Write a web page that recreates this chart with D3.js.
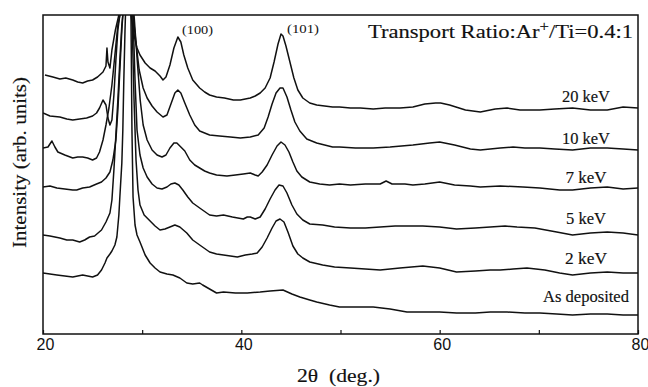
<!DOCTYPE html>
<html>
<head>
<meta charset="utf-8">
<script src="https://cdn.jsdelivr.net/npm/d3@7"></script>
<style>
  html, body { margin: 0; padding: 0; background: #fff; }
  svg { display: block; }
  text { fill: #111; }
  .serif { stroke: #111; stroke-width: 0.15px; }
</style>
</head>
<body>
<svg id="chart" width="648" height="387"></svg>
<script>
// ---- Data (2θ in degrees, intensity in arbitrary units, offset per trace) ----
const seriesNames = ["20 keV", "10 keV", "7 keV", "5 keV", "2 keV", "As deposited"];

const kev20 = [[20.2,259],[21.0,257],[21.7,255],[22.3,256],[23.0,254],[23.5,252],[24.0,251],[24.5,253],[25.0,254],[25.5,257],[26.05,262],[26.35,268],[26.45,286],[26.55,272],[26.75,266],[26.95,284],[27.3,304],[27.65,319],[28.27,394],[28.87,319],[29.18,299],[29.48,286],[29.78,279],[30.3,271],[30.8,266],[31.3,263],[31.8,258],[32.1,254],[32.4,257],[32.8,269],[33.2,286],[33.6,297],[33.9,292],[34.2,279],[34.6,266],[35.1,254],[35.8,246],[36.3,242],[36.8,239],[37.5,237],[38.3,236],[39.2,234],[39.9,234],[40.4,235],[40.9,236],[41.4,238],[41.9,241],[42.4,246],[42.9,256],[43.3,272],[43.7,290],[44.0,300],[44.2,298],[44.5,288],[44.9,272],[45.3,256],[45.7,244],[46.2,236],[46.9,231],[47.6,229],[48.4,228],[49.2,227],[49.9,227],[51.0,226],[52.0,226],[53.3,225],[54.5,226],[56.0,226],[57.3,227],[58.5,230],[59.6,231],[60.1,231],[61.0,229],[62.6,224],[64.1,222],[65.6,225],[66.8,226],[68.1,224],[70.1,224],[71.6,225],[73.4,226],[75.2,224],[76.9,224],[78.5,227],[80.0,226]];

const kev10 = [[20.0,221],[20.7,218],[21.7,217],[22.4,215],[23.0,214],[23.7,215],[24.4,216],[25.0,218],[25.4,221],[25.7,226],[26.05,234],[26.35,229],[26.55,216],[26.75,209],[26.95,214],[27.15,239],[27.35,274],[27.55,304],[27.75,319],[28.3,394],[29.08,319],[29.4,289],[29.7,264],[30.1,246],[30.5,236],[31.0,228],[31.5,222],[32.1,217],[32.5,219],[32.9,230],[33.3,241],[33.6,244],[33.9,241],[34.3,231],[34.8,219],[35.3,209],[35.8,203],[36.8,199],[37.8,198],[38.9,197],[39.9,196],[40.9,197],[41.7,199],[42.3,206],[42.7,217],[43.1,230],[43.5,241],[43.9,246],[44.2,246],[44.6,237],[45.0,224],[45.4,212],[45.9,203],[46.6,195],[47.6,191],[48.4,189],[49.2,187],[49.9,187],[51.5,186],[53.3,186],[55.0,187],[57.3,189],[59.0,191],[60.0,192],[61.5,189],[63.1,185],[64.1,184],[66.1,186],[67.4,187],[68.6,186],[70.1,186],[71.6,185],[73.4,184],[75.2,186],[76.9,186],[78.5,185],[80.0,184]];

const kev7 = [[20.0,186],[20.5,187],[20.9,193],[21.2,187],[21.5,182],[22.2,179],[23.0,176],[23.5,177],[24.0,177],[24.5,176],[25.0,174],[25.4,176],[25.7,182],[26.05,194],[26.35,209],[26.65,226],[26.95,249],[27.25,279],[27.55,309],[27.75,319],[28.35,394],[29.18,319],[29.5,274],[29.8,234],[30.1,209],[30.5,194],[31.0,184],[31.5,179],[32.0,177],[32.4,179],[32.8,186],[33.2,191],[33.5,191],[33.9,187],[34.3,183],[34.8,174],[35.3,169],[35.8,166],[36.3,163],[36.8,161],[37.5,159],[38.55,158],[39.4,159],[40.2,160],[40.9,161],[41.4,159],[41.7,158],[42.1,162],[42.6,169],[43.1,179],[43.6,188],[44.0,192],[44.4,189],[44.8,182],[45.2,172],[45.6,163],[46.1,157],[46.9,152],[47.9,150],[48.9,149],[49.9,150],[51.0,149],[52.5,150],[54.0,150],[54.6,153],[55.2,150],[56.5,150],[57.3,149],[58.5,150],[60.0,152],[61.5,149],[63.1,148],[64.1,147],[66.1,148],[68.4,147],[70.1,146],[72.1,144],[73.4,144],[75.2,146],[76.9,147],[78.5,145],[80.0,146]];

const kev5 = [[20.0,147],[20.7,148],[21.4,146],[22.2,145],[23.0,144],[23.4,144],[24.0,146],[24.7,147],[25.4,150],[25.9,152],[26.35,156],[26.75,162],[27.05,174],[27.35,194],[27.55,224],[27.75,264],[27.95,304],[28.05,319],[28.47,394],[29.08,319],[29.28,254],[29.48,204],[29.78,179],[30.1,166],[30.5,157],[31.0,150],[31.5,146],[32.0,145],[32.5,147],[32.9,150],[33.3,151],[33.7,149],[34.1,144],[34.6,137],[35.1,131],[35.8,126],[36.8,119],[37.5,118],[38.2,119],[39.1,117],[40.2,115],[40.6,117],[40.9,117],[41.4,115],[41.9,117],[42.4,125],[42.9,135],[43.4,144],[43.8,149],[44.2,148],[44.6,141],[45.1,129],[45.6,120],[46.2,114],[46.9,110],[48.2,109],[49.4,107],[51.0,106],[52.5,106],[54.0,107],[55.5,108],[57.0,108],[58.3,108],[60.0,107],[61.7,105],[63.6,106],[65.1,107],[66.6,108],[67.8,107],[69.6,106],[71.8,102],[73.4,99],[75.2,101],[76.9,102],[78.5,101],[80.0,99]];

const kev2 = [[20.0,99],[20.7,98],[21.7,96],[22.4,94],[23.0,94],[23.7,92],[24.2,94],[24.7,97],[25.2,98],[25.9,104],[26.35,112],[26.75,121],[26.95,134],[27.15,164],[27.35,199],[27.55,234],[27.75,274],[27.95,309],[28.05,319],[28.5,394],[28.97,319],[29.18,234],[29.38,174],[29.58,144],[29.78,129],[30.2,119],[30.8,113],[31.3,108],[31.8,104],[32.3,105],[32.8,107],[33.3,109],[33.8,107],[34.5,101],[35.1,94],[35.8,89],[36.8,82],[37.5,80],[38.2,79],[38.9,78],[39.6,77],[40.4,79],[41.1,80],[41.6,81],[42.1,87],[42.6,96],[43.1,106],[43.5,113],[43.9,115],[44.3,112],[44.7,102],[45.2,88],[45.7,80],[46.2,76],[46.9,72],[48.2,69],[49.4,67],[51.0,66],[52.5,65],[54.0,64],[56.0,66],[58.3,68],[60.0,66],[61.7,62],[63.6,63],[65.1,64],[66.1,64],[67.4,65],[68.8,66],[70.6,64],[72.1,61],[73.4,59],[75.2,61],[76.9,62],[78.5,61],[80.0,61]];

const asDeposited = [[20.0,61],[20.7,60],[21.4,59],[22.2,58],[23.0,57],[23.5,58],[24.0,59],[24.5,58],[25.0,57],[25.5,59],[25.9,64],[26.25,71],[26.45,76],[26.75,80],[26.95,83],[27.25,89],[27.45,97],[27.65,119],[27.75,137],[27.95,171],[28.05,204],[28.15,254],[28.27,304],[28.55,394],[28.87,319],[28.97,204],[29.08,137],[29.28,109],[29.48,99],[29.78,92],[30.3,79],[30.8,71],[31.3,66],[31.8,62],[32.5,60],[33.1,59],[33.8,56],[34.5,51],[35.1,50],[35.8,51],[36.1,49],[36.8,45],[37.5,41],[38.2,42],[39.4,41],[40.6,41],[41.9,42],[42.9,43],[44.2,44],[45.1,40],[45.9,37],[46.9,34],[47.6,32],[48.9,29],[49.9,27],[51.5,27],[53.3,27],[55.0,25],[56.7,22],[58.5,22],[60.0,22],[61.7,21],[63.6,21],[65.1,22],[66.8,22],[68.6,21],[70.1,21],[71.8,20],[73.4,19],[75.2,20],[76.9,20],[78.5,19],[80.0,19]];

const seriesData = [kev20, kev10, kev7, kev5, kev2, asDeposited];

const xTicks = [20, 30, 40, 50, 60, 70, 80];
const xTickLabels = {20: "20", 40: "40", 60: "60", 80: "80"};
const peakLabels = ["(100)", "(101)"];
const titleMain = "Transport Ratio:Ar";
const titleSup = "+";
const titleTail = "/Ti=0.4:1";
const xTitle = "2\u03B8  (deg.)";
const yTitle = "Intensity (arb. units)";

// ---- Layout ----
const svg = d3.select("#chart");
const L = 43, R = 638, T = 15, B = 334;

const x = d3.scaleLinear().domain([20, 80]).range([L, R]);
const y = d3.scaleLinear().domain([0, 319]).range([B, T]);

svg.append("defs").append("clipPath").attr("id", "plotclip")
  .append("rect").attr("x", L).attr("y", T).attr("width", R - L).attr("height", B - T);

const line = d3.line().x(d => x(d[0])).y(d => y(d[1])).curve(d3.curveLinear);

const g = svg.append("g").attr("clip-path", "url(#plotclip)");
g.selectAll("path.trace").data(seriesData).enter().append("path")
  .attr("class", "trace")
  .attr("d", line)
  .attr("fill", "none")
  .attr("stroke", "#111")
  .attr("stroke-width", 1.5)
  .attr("stroke-linejoin", "round");

// frame
svg.append("rect").attr("x", L).attr("y", T).attr("width", R - L).attr("height", B - T)
  .attr("fill", "none").attr("stroke", "#111").attr("stroke-width", 1.5);

// bottom axis (inward ticks)
const xAxis = d3.axisBottom(x).tickValues(xTicks).tickSize(-4).tickPadding(5)
  .tickFormat(d => xTickLabels[d] || "");
const ax = svg.append("g").attr("transform", `translate(0,${B})`).call(xAxis);
ax.select(".domain").remove();
ax.selectAll(".tick line").attr("stroke", "#111").attr("stroke-width", 1.2);
ax.selectAll(".tick text")
  .attr("font-family", "Liberation Sans, Arial, sans-serif")
  .attr("font-size", 16).attr("fill", "#111")
  .attr("dx", 2);

// axis titles
svg.append("text").attr("class", "serif").attr("x", 338.5).attr("y", 382)
  .attr("text-anchor", "middle")
  .attr("font-family", "Liberation Serif, Times New Roman, serif")
  .attr("font-size", 18).style("white-space", "pre")
  .attr("textLength", 83).attr("lengthAdjust", "spacingAndGlyphs")
  .text(xTitle);

svg.append("text").attr("class", "serif").attr("transform", "translate(26,162.5) rotate(-90)")
  .attr("text-anchor", "middle")
  .attr("font-family", "Liberation Serif, Times New Roman, serif")
  .attr("font-size", 19)
  .attr("textLength", 171).attr("lengthAdjust", "spacingAndGlyphs")
  .text(yTitle);

// title
const title = svg.append("text").attr("class", "serif").attr("x", 368).attr("y", 38)
  .attr("font-family", "Liberation Serif, Times New Roman, serif")
  .attr("font-size", 19)
  .attr("textLength", 265).attr("lengthAdjust", "spacingAndGlyphs");
title.append("tspan").text(titleMain);
title.append("tspan").attr("dy", -7).attr("font-size", 14).text(titleSup);
title.append("tspan").attr("dy", 7).text(titleTail);

// peak labels
const peakPos = [[182, 34, 31], [287, 33, 32]];
peakLabels.forEach((t, i) => {
  svg.append("text").attr("x", peakPos[i][0]).attr("y", peakPos[i][1])
    .attr("font-family", "Liberation Serif, Times New Roman, serif")
    .attr("font-size", 12)
    .attr("textLength", peakPos[i][2]).attr("lengthAdjust", "spacingAndGlyphs")
    .text(t);
});

// series labels
const labelY = [102, 144, 183, 224, 264, 302];
const labelW = [48, 48, 41, 40, 42, 86];
seriesNames.forEach((t, i) => {
  svg.append("text").attr("class", "serif").attr("x", 586).attr("y", labelY[i])
    .attr("text-anchor", "middle")
    .attr("font-family", "Liberation Serif, Times New Roman, serif")
    .attr("font-size", 16)
    .attr("textLength", labelW[i]).attr("lengthAdjust", "spacingAndGlyphs")
    .text(t);
});
</script>
</body>
</html>
